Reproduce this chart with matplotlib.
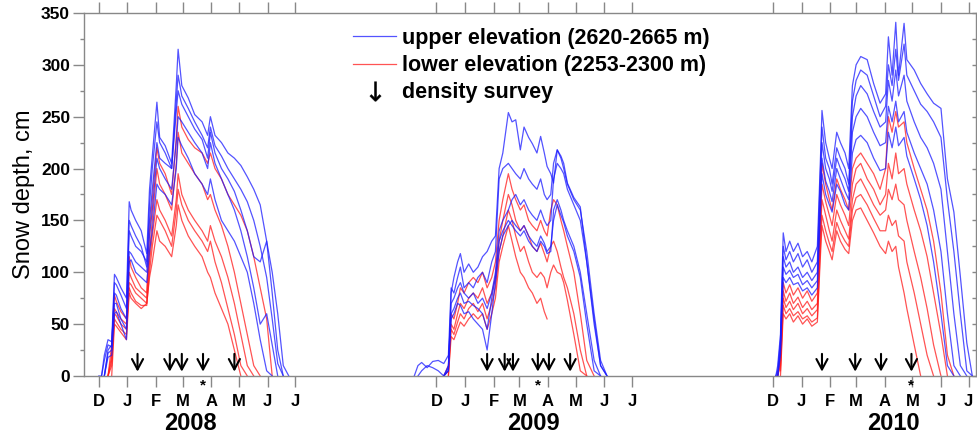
import numpy as np
import matplotlib
matplotlib.use('Agg')
import matplotlib.pyplot as plt
from matplotlib.lines import Line2D

n = np.nan

# ---- season 2007/08 : days after 1 Dec 2007 ----
days_2008 = [0, 3, 6, 10, 14, 17, 19, 24, 30, 33, 35, 40, 46, 52, 55, 58, 63, 66, 72, 79,
             84, 86, 90, 97, 104, 112, 118, 121, 126, 133, 140, 147, 154, 161, 168, 175, 182, 188, 194, 200, 206]
upper_2008 = [
    [0, 0, 20, 35, 33, 98, 95, 85, 75, 168, 160, 150, 140, 118, 180, 212, 264, 230, 222, 205,
     280, 315, 280, 268, 252, 245, 232, 250, 232, 225, 215, 210, 203, 192, 180, 165, 130, 100, 60, 10, 0],
    [n, 0, 15, 30, 28, 90, 88, 78, 65, 150, 145, 135, 125, 105, 165, 200, 245, 225, 215, 200,
     265, 290, 270, 258, 245, 232, 220, 240, 222, 212, 200, 190, 180, 168, 150, 125, 95, 55, 12, 0, n],
    [n, n, 0, 25, 30, 80, 78, 65, 55, 140, 135, 125, 120, 110, 150, 180, 225, 210, 205, 200,
     255, 275, 262, 250, 238, 228, 210, 235, 215, 200, 190, 178, 160, 140, 115, 110, 130, 80, 25, 0, n],
    [n, n, 0, 22, 25, 70, 70, 55, 45, 120, 118, 110, 105, 100, 135, 160, 210, 200, 190, 180,
     225, 250, 245, 235, 225, 215, 200, 225, 205, 190, 175, 160, 140, 115, 85, 50, 60, 30, 0, n, n],
    [n, n, 0, 18, 20, 60, 62, 50, 35, 110, 112, 100, 95, 90, 120, 140, 185, 180, 175, 165,
     200, 230, 222, 210, 195, 185, 175, 190, 170, 150, 140, 130, 115, 100, 70, 35, 5, 0, n, n, n],
]
lower_2008 = [
    [n, n, n, 0, 30, 78, 72, 62, 55, 115, 105, 95, 85, 80, 140, 170, 220, 205, 195, 175,
     230, 260, 240, 228, 220, 215, 205, 215, 200, 190, 175, 165, 155, 140, 115, 85, 55, 0, n, n, n],
    [n, n, n, 0, 20, 65, 62, 55, 50, 100, 95, 85, 80, 75, 120, 150, 200, 185, 175, 160,
     205, 235, 215, 205, 195, 185, 170, 175, 160, 145, 125, 100, 70, 40, 10, 0, n, n, n, n, n],
    [n, n, n, 0, 15, 60, 58, 50, 45, 90, 88, 80, 75, 70, 110, 135, 170, 160, 150, 135,
     170, 195, 175, 160, 150, 140, 130, 145, 130, 115, 95, 70, 40, 10, 0, n, n, n, n, n, n],
    [n, n, n, 0, 10, 55, 52, 45, 40, 85, 80, 72, 68, 68, 100, 125, 155, 150, 140, 125,
     160, 180, 165, 150, 140, 130, 120, 130, 110, 90, 65, 40, 10, 0, n, n, n, n, n, n, n],
    [n, n, n, n, 0, 50, 48, 42, 35, 80, 75, 70, 65, 70, 95, 110, 140, 130, 125, 115,
     145, 165, 150, 135, 125, 115, 100, 95, 80, 65, 50, 25, 0, n, n, n, n, n, n, n, n],
]

# ---- season 2008/09 : days after 1 Dec 2008 ----
days_2009 = [-24, -20, -16, -10, -4, 2, 8, 13, 16, 19, 23, 26, 30, 35, 40, 45, 50, 55, 60, 64,
             68, 72, 78, 82, 86, 91, 95, 100, 104, 109, 113, 117, 120, 124, 127, 131, 135, 138, 142, 149,
             156, 163, 171, 178, 185]
upper_2009 = [
    [n, n, n, n, n, n, 0, 5, 80, 95, 110, 118, 100, 108, 100, 105, 115, 120, 130, 135,
     200, 215, 254, 245, 247, 218, 240, 230, 224, 215, 231, 215, 202, 195, 186, 218, 212, 205, 186, 172,
     163, 110, 50, 10, 0],
    [0, 10, 13, 8, 14, 15, 12, 20, 85, 80, 95, 105, 85, 90, 85, 95, 100, 90, 110, 120,
     190, 200, 205, 200, 195, 190, 200, 190, 185, 180, 190, 175, 170, 175, 205, 218, 210, 200, 185, 170,
     160, 120, 60, 15, 0],
    [n, 0, 5, 10, 8, 5, 0, 10, 70, 75, 85, 90, 80, 75, 80, 70, 75, 65, 80, 100,
     140, 150, 160, 170, 175, 165, 170, 160, 155, 150, 160, 150, 145, 150, 190, 205, 200, 195, 180, 165,
     150, 110, 55, 10, 0],
    [n, n, n, n, n, n, 0, 8, 60, 65, 75, 80, 70, 72, 68, 65, 60, 45, 75, 95,
     130, 140, 150, 145, 140, 135, 140, 130, 125, 120, 130, 125, 118, 120, 160, 170, 160, 150, 140, 125,
     100, 60, 15, 0, n],
    [n, n, n, n, n, n, 0, 5, 55, 60, 70, 68, 60, 62, 55, 50, 45, 25, 60, 90,
     120, 135, 145, 150, 145, 140, 145, 135, 130, 125, 135, 128, 120, 125, 150, 165, 155, 148, 135, 120,
     95, 50, 5, 0, n],
]
lower_2009 = [
    [n, n, n, n, n, n, 0, 10, 60, 55, 70, 85, 80, 90, 95, 90, 100, 85, 95, 110,
     150, 170, 195, 180, 170, 160, 165, 150, 145, 140, 150, 140, 135, 160, 170, 165, 150, 140, 125, 100,
     60, 15, 0, n, n],
    [n, n, n, n, n, n, 0, 5, 50, 45, 60, 70, 65, 75, 80, 75, 85, 70, 80, 95,
     130, 150, 175, 165, 150, 140, 145, 135, 125, 120, 128, 118, 110, 125, 130, 120, 105, 95, 85, 60,
     25, 0, n, n, n],
    [n, n, n, n, n, n, n, 0, 45, 40, 52, 60, 55, 65, 70, 62, 70, 55, 70, 85,
     120, 135, 160, 150, 135, 120, 125, 110, 100, 95, 100, 95, 85, 100, 107, 100, 98, 90, 73, 40,
     5, 0, n, n, n],
    [n, n, n, n, n, n, n, 0, 38, 35, 45, 52, 48, 55, 60, 55, 60, 45, 60, 75,
     110, 125, 145, 130, 115, 100, 95, 85, 80, 70, 75, 62, 55, n, n, n, n, n, n, n,
     n, n, n, n, n],
]

# ---- season 2009/10 : days after 1 Dec 2009 ----
days_2010 = [3, 5, 8, 11, 14, 18, 22, 27, 32, 37, 42, 48, 51, 53, 57, 61, 64, 69, 73, 78,
             82, 86, 90, 95, 102, 109, 116, 122, 125, 129, 133, 136, 142, 145, 153, 160, 167, 174, 182, 189,
             196, 203, 210, 216]
upper_2010 = [
    [0, 10, 40, 138, 120, 130, 120, 128, 115, 120, 110, 125, 200, 256, 225, 210, 200, 235, 225, 215,
     200, 280, 300, 308, 305, 282, 263, 272, 327, 290, 341, 290, 340, 305, 295, 282, 272, 263, 258, 190,
     158, 96, 32, 0],
    [0, 5, 35, 125, 112, 120, 110, 118, 105, 112, 100, 110, 190, 240, 210, 200, 185, 220, 210, 200,
     185, 265, 285, 295, 290, 270, 250, 260, 300, 280, 315, 285, 320, 290, 275, 262, 255, 245, 230, 170,
     120, 60, 5, 0],
    [0, 0, 30, 115, 105, 110, 100, 105, 95, 100, 92, 100, 175, 225, 200, 190, 178, 210, 200, 190,
     178, 250, 270, 280, 272, 255, 240, 245, 285, 265, 295, 270, 290, 265, 245, 230, 220, 205, 180, 120,
     60, 10, 0, n],
    [n, 0, 25, 105, 98, 102, 95, 98, 88, 92, 85, 92, 165, 210, 188, 178, 168, 200, 190, 178,
     170, 235, 250, 258, 250, 235, 222, 225, 260, 245, 265, 245, 255, 235, 215, 200, 185, 160, 120, 60,
     10, 0, n, n],
    [n, 0, 20, 95, 90, 95, 88, 90, 82, 85, 78, 85, 150, 195, 175, 165, 158, 185, 178, 165,
     160, 215, 228, 232, 225, 210, 198, 200, 235, 220, 240, 222, 230, 212, 190, 170, 145, 110, 60, 10,
     0, n, n, n],
]
lower_2010 = [
    [n, 0, 20, 90, 80, 88, 78, 85, 75, 82, 72, 80, 150, 205, 185, 170, 160, 190, 180, 170,
     160, 200, 210, 215, 205, 195, 180, 200, 250, 235, 255, 240, 245, 225, 200, 180, 160, 130, 80, 20,
     0, n, n, n],
    [n, 0, 15, 82, 72, 80, 70, 76, 66, 72, 64, 70, 140, 185, 168, 155, 145, 175, 165, 155,
     145, 185, 200, 205, 190, 180, 165, 175, 205, 190, 215, 195, 200, 185, 160, 140, 115, 80, 40, 0,
     n, n, n, n],
    [n, 0, 10, 75, 66, 72, 64, 70, 60, 65, 58, 64, 130, 170, 155, 140, 130, 160, 150, 140,
     132, 170, 185, 190, 178, 165, 155, 160, 180, 170, 185, 170, 165, 150, 120, 95, 65, 30, 0, n,
     n, n, n, n],
    [n, n, 5, 68, 60, 65, 58, 62, 55, 58, 52, 56, 118, 155, 140, 128, 120, 148, 138, 130,
     125, 160, 172, 175, 165, 152, 140, 140, 155, 145, 150, 135, 130, 110, 80, 50, 20, 0, n, n,
     n, n, n, n],
    [n, n, 0, 60, 55, 60, 52, 58, 50, 55, 48, 52, 110, 145, 130, 120, 112, 140, 130, 122,
     118, 150, 160, 162, 150, 138, 125, 118, 130, 120, 125, 105, 80, 65, 30, 0, n, n, n, n,
     n, n, n, n],
]

season_starts = ['2007-12-01', '2008-12-01', '2009-12-01']
season_days = [days_2008, days_2009, days_2010]
season_upper = [upper_2008, upper_2009, upper_2010]
season_lower = [lower_2008, lower_2009, lower_2010]

# density survey dates (starred = special survey)
survey_dates = ['2008-01-12', '2008-02-16', '2008-02-29', '2008-03-23', '2008-04-26',
                '2009-01-25', '2009-02-13', '2009-02-22', '2009-03-21', '2009-04-02', '2009-04-25',
                '2010-01-23', '2010-02-28', '2010-03-28', '2010-04-30']
starred_dates = ['2008-03-23', '2009-03-21', '2010-04-30']

month_letters = ['D', 'J', 'F', 'M', 'A', 'M', 'J', 'J']
year_labels = ['2008', '2009', '2010']

plt.rcParams['font.family'] = ['Liberation Sans', 'DejaVu Sans']

fig = plt.figure(figsize=(9.77, 4.38), dpi=100)
ax = fig.add_axes([0.086, 0.1416, 0.913, 0.8288])

blue = '#1a1aff'
red = '#ff1a1a'
for start, days, ups, lows in zip(season_starts, season_days, season_upper, season_lower):
    t = np.datetime64(start) + np.array(days).astype('timedelta64[D]')
    for vals in lows:
        ax.plot(t, vals, color=red, lw=0.9, alpha=0.75)
    for vals in ups:
        ax.plot(t, vals, color=blue, lw=0.9, alpha=0.75)

# survey arrows
for d in survey_dates:
    x = np.datetime64(d)
    ax.annotate('', xy=(x, 1.5), xytext=(x, 24),
                arrowprops=dict(arrowstyle='->,head_length=0.75,head_width=0.4', lw=1.5, color='k'))
for d in starred_dates:
    ax.text(np.datetime64(d), -9, '*', ha='center', va='center', fontsize=11,
            fontweight='bold', clip_on=False)

# month ticks
ticks, labels = [], []
for y in [2007, 2008, 2009]:
    ticks.append(np.datetime64(f'{y}-12-01'))
    for m in range(1, 8):
        ticks.append(np.datetime64(f'{y + 1}-{m:02d}-01'))
    labels += month_letters
ax.set_xticks(ticks)
ax.set_xticklabels(labels, fontsize=12, fontweight='bold')
ax.set_xlim(np.datetime64('2007-11-15'), np.datetime64('2010-07-09'))
ax.tick_params(axis='x', top=True, direction='out', length=8, width=1, color='#888888', pad=5)

ax.set_ylim(0, 350)
ax.set_yticks(np.arange(0, 351, 50))
ax.set_yticks(np.arange(0, 351, 25), minor=True)
ax.set_yticklabels([str(v) for v in range(0, 351, 50)], fontsize=12.5, fontweight='bold')
ax.tick_params(axis='y', which='major', direction='out', length=8, width=1, color='#888888', pad=2)
ax.tick_params(axis='y', which='minor', direction='out', length=3, width=1, color='#888888')
ax.set_ylabel('Snow depth, cm', fontsize=17, labelpad=4)

for s in ax.spines.values():
    s.set_color('#888888')
    s.set_linewidth(1.0)

ax2 = ax.twinx()
ax2.set_ylim(0, 350)
ax2.set_yticks(np.arange(0, 351, 25))
ax2.tick_params(axis='y', direction='in', length=3, width=1, color='#888888', labelright=False)
for s in ax2.spines.values():
    s.set_visible(False)

# year labels under the month letters
for lbl, d in zip(year_labels, ['2008-03-09', '2009-03-16', '2010-04-10']):
    ax.text(np.datetime64(d), -0.13, lbl, transform=ax.get_xaxis_transform(),
            ha='center', va='center', fontsize=17, fontweight='bold')

handles = [Line2D([], [], color=blue, lw=0.9, alpha=0.75),
           Line2D([], [], color=red, lw=0.9, alpha=0.75),
           Line2D([], [], ls='none', marker='$↓$', markersize=14, color='k', markeredgewidth=0.3)]
ax.legend(handles, ['upper elevation (2620-2665 m)', 'lower elevation (2253-2300 m)', 'density survey'],
          loc='upper left', bbox_to_anchor=(0.285, 1.0), frameon=False,
          prop={'size': 15.5, 'weight': 'bold'}, handlelength=2.0, handletextpad=0.25,
          labelspacing=0.28, borderpad=0.2)

fig.savefig('out.png', dpi=100)
